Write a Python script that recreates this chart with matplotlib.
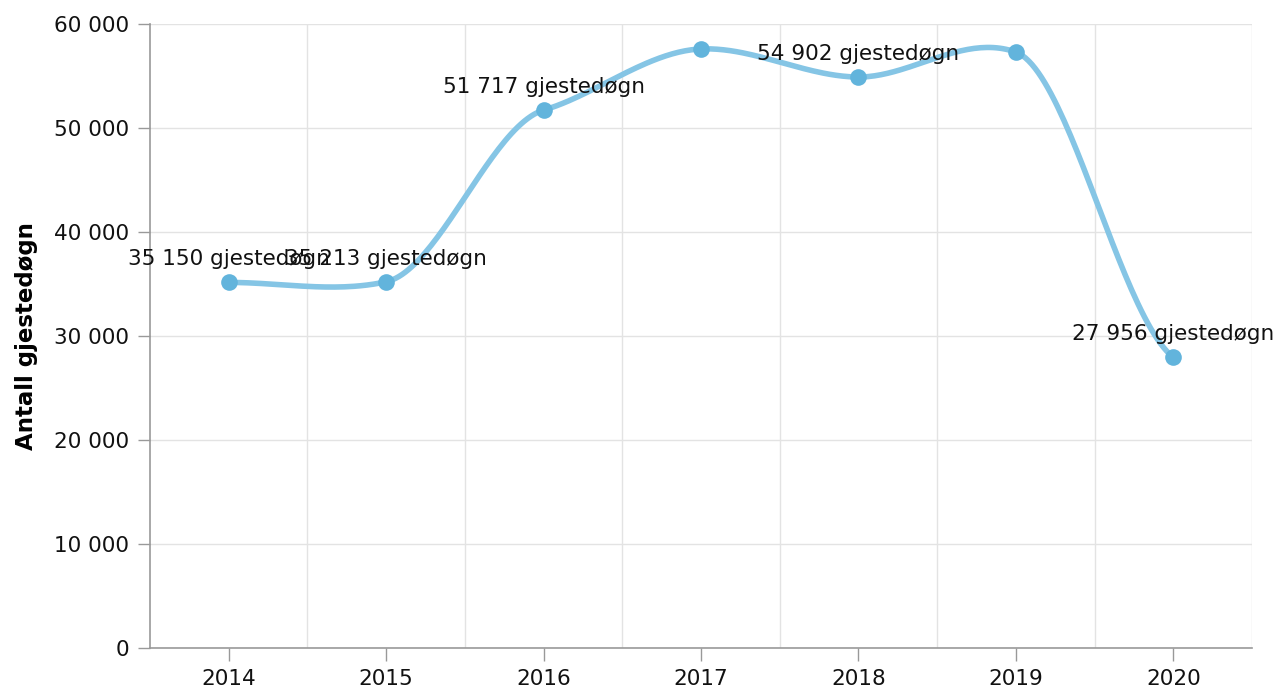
"""Gjestedøgn per år 2014-2020, glatt linje med punkter og verdietiketter."""

import matplotlib
matplotlib.use("Agg")
import matplotlib.pyplot as plt
import numpy as np

# --- Data ---------------------------------------------------------------------
aar = ["2014", "2015", "2016", "2017", "2018", "2019", "2020"]
gjestedogn = [35150, 35213, 51717, 57600, 54902, 57300, 27956]
vis_etikett = [True, True, True, False, True, False, True]


def glatt(y, spenning=0.5, n=50):
    """Kardinal spline y(x) gjennom punktene, x = 0, 1, 2, ..."""
    y = np.asarray(y, dtype=float)
    m = np.zeros_like(y)
    m[1:-1] = spenning * (y[2:] - y[:-2]) / 2
    m[0] = spenning * (y[1] - y[0])
    m[-1] = spenning * (y[-1] - y[-2])
    xs, ys = [], []
    t = np.linspace(0, 1, n)
    h00 = 2 * t**3 - 3 * t**2 + 1
    h10 = t**3 - 2 * t**2 + t
    h01 = -2 * t**3 + 3 * t**2
    h11 = t**3 - t**2
    for i in range(len(y) - 1):
        xs.append(i + t)
        ys.append(h00 * y[i] + h10 * m[i] + h01 * y[i + 1] + h11 * m[i + 1])
    return np.concatenate(xs), np.concatenate(ys)


plt.rcParams["font.family"] = ["DejaVu Sans"]

fig = plt.figure(figsize=(12.8, 6.96), dpi=100)
ax = fig.add_axes([150 / 1280, 48 / 696, 1102 / 1280, 624 / 696])

x = np.arange(len(aar), dtype=float)
kx, ky = glatt(gjestedogn, spenning=0.4)

ax.plot(kx, ky, color="#85c5e5", linewidth=4, solid_capstyle="round", zorder=3)
ax.plot(x, gjestedogn, "o", color="#62b4dc", markersize=12,
        markeredgewidth=0, zorder=4)

for xi, yi, vis in zip(x, gjestedogn, vis_etikett):
    if not vis:
        continue
    etikett = f"{yi:,}".replace(",", " ") + " gjestedøgn"
    ax.annotate(
        etikett,
        (xi, yi),
        xytext=(0, 9.5),
        textcoords="offset points",
        ha="center",
        va="bottom",
        fontsize=15.5,
        color="#111111",
        zorder=5,
        annotation_clip=False,
    )

# --- Akser --------------------------------------------------------------------
ax.set_xlim(-0.5, len(aar) - 0.5)
ax.set_ylim(0, 60000)
ax.set_xticks(x)
ax.set_xticklabels(aar)
ax.set_xticks(np.arange(0.5, len(aar) - 0.5, 1), minor=True)
ax.set_yticks(np.arange(0, 60001, 10000))
ax.set_yticklabels([f"{v:,}".replace(",", " ") for v in range(0, 60001, 10000)])

ax.grid(axis="y", which="major", color="#e3e3e3", linewidth=1)
ax.grid(axis="x", which="minor", color="#e3e3e3", linewidth=1)
ax.axvline(len(aar) - 0.5, color="#e3e3e3", linewidth=1)
ax.set_axisbelow(True)

ax.tick_params(axis="both", which="major", labelsize=15.5, color="#999999",
               length=9, width=1, labelcolor="#111111", pad=6)
ax.tick_params(axis="x", which="minor", length=0)
for s in ("top", "right"):
    ax.spines[s].set_visible(False)
for s in ("left", "bottom"):
    ax.spines[s].set_color("#999999")
    ax.spines[s].set_linewidth(1.2)

ax.set_ylabel("Antall gjestedøgn", fontsize=16.5, fontweight="bold")
ax.yaxis.set_label_coords(-0.102, 0.5)

fig.savefig("out.png", dpi=100)
